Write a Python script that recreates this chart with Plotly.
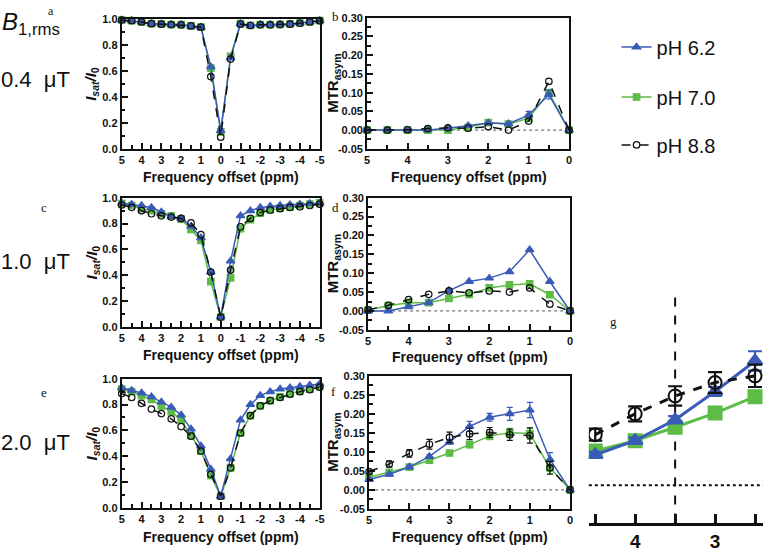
import plotly.graph_objects as go

# ---------------- data ----------------
x_z = [5, 4.5, 4, 3.5, 3, 2.5, 2, 1.5, 1, 0.5, 0, -0.5, -1, -1.5, -2, -2.5, -3, -3.5, -4, -4.5, -5]
x_m = [5, 4.5, 4, 3.5, 3, 2.5, 2, 1.5, 1, 0.5, 0]

series_names = ["pH 6.2", "pH 7.0", "pH 8.8"]

# 0.4 uT Z-spectra
z04_62 = [0.99, 0.985, 0.975, 0.962, 0.96, 0.955, 0.955, 0.942, 0.935, 0.63, 0.14, 0.70, 0.962, 0.948, 0.955, 0.955, 0.957, 0.96, 0.967, 0.975, 0.985]
z04_70 = [0.99, 0.985, 0.975, 0.962, 0.96, 0.955, 0.955, 0.945, 0.935, 0.62, 0.13, 0.71, 0.962, 0.948, 0.955, 0.955, 0.957, 0.96, 0.967, 0.975, 0.985]
z04_88 = [0.99, 0.985, 0.975, 0.962, 0.958, 0.955, 0.952, 0.945, 0.935, 0.555, 0.09, 0.69, 0.958, 0.948, 0.953, 0.953, 0.955, 0.958, 0.965, 0.975, 0.985]
# 0.4 uT MTRasym
m04_62 = [0.0, 0.0, 0.0, 0.0, 0.005, 0.012, 0.019, 0.017, 0.040, 0.095, 0.0]
m04_70 = [0.0, 0.0, 0.0, 0.0, 0.0, 0.007, 0.020, 0.016, 0.032, 0.100, 0.0]
m04_88 = [0.0, 0.0, 0.001, 0.004, 0.006, 0.005, 0.009, 0.0, 0.024, 0.130, 0.0]
e04_62 = [0, 0, 0, 0, 0, 0, 0, 0, 0.01, 0.012, 0]

# 1.0 uT Z-spectra
z10_62 = [0.96, 0.95, 0.94, 0.925, 0.89, 0.855, 0.84, 0.78, 0.69, 0.425, 0.076, 0.51, 0.86, 0.90, 0.925, 0.935, 0.94, 0.945, 0.95, 0.955, 0.96]
z10_70 = [0.955, 0.94, 0.915, 0.90, 0.875, 0.86, 0.835, 0.755, 0.67, 0.35, 0.076, 0.38, 0.76, 0.83, 0.88, 0.905, 0.92, 0.93, 0.94, 0.95, 0.96]
z10_88 = [0.944, 0.926, 0.90, 0.876, 0.86, 0.85, 0.84, 0.805, 0.715, 0.425, 0.076, 0.44, 0.775, 0.84, 0.885, 0.905, 0.915, 0.925, 0.93, 0.94, 0.95]
# 1.0 uT MTRasym
m10_62 = [0.0, 0.0, 0.011, 0.022, 0.054, 0.078, 0.087, 0.104, 0.162, 0.078, 0.0]
m10_70 = [0.003, 0.014, 0.022, 0.022, 0.033, 0.044, 0.061, 0.069, 0.072, 0.043, 0.0]
m10_88 = [0.003, 0.015, 0.030, 0.044, 0.053, 0.048, 0.053, 0.050, 0.061, 0.018, 0.0]

# 2.0 uT Z-spectra
z20_62 = [0.93, 0.91, 0.89, 0.86, 0.82, 0.78, 0.72, 0.61, 0.48, 0.30, 0.09, 0.38, 0.68, 0.80, 0.87, 0.90, 0.92, 0.93, 0.94, 0.95, 0.96]
z20_70 = [0.92, 0.90, 0.87, 0.84, 0.79, 0.745, 0.68, 0.56, 0.44, 0.25, 0.09, 0.31, 0.58, 0.715, 0.79, 0.83, 0.86, 0.885, 0.905, 0.92, 0.94]
z20_88 = [0.885, 0.855, 0.81, 0.765, 0.73, 0.69, 0.63, 0.555, 0.44, 0.26, 0.09, 0.31, 0.58, 0.715, 0.79, 0.83, 0.855, 0.88, 0.90, 0.915, 0.935]
# 2.0 uT MTRasym with error bars
m20_62 = [0.027, 0.041, 0.060, 0.088, 0.126, 0.167, 0.191, 0.200, 0.210, 0.080, 0.0]
m20_70 = [0.033, 0.046, 0.060, 0.078, 0.097, 0.119, 0.142, 0.150, 0.148, 0.058, 0.0]
m20_88 = [0.048, 0.068, 0.096, 0.120, 0.138, 0.147, 0.151, 0.145, 0.143, 0.058, 0.0]
e20_62 = [0.004, 0.004, 0.004, 0.005, 0.006, 0.013, 0.010, 0.017, 0.020, 0.018, 0.0]
e20_70 = [0.004, 0.005, 0.004, 0.005, 0.005, 0.008, 0.010, 0.012, 0.015, 0.015, 0.0]
e20_88 = [0.004, 0.008, 0.010, 0.013, 0.014, 0.015, 0.013, 0.015, 0.020, 0.017, 0.0]

z_tickvals = [5, 4, 3, 2, 1, 0, -1, -2, -3, -4, -5]
z_ticktext = ["5", "4", "3", "2", "1", "0", "-1", "-2", "-3", "-4", "-5"]
zy_tickvals = [0, 0.2, 0.4, 0.6, 0.8, 1.0]
zy_ticktext = ["0.0", "0.2", "0.4", "0.6", "0.8", "1.0"]
m_tickvals = [5, 4, 3, 2, 1, 0]
m_ticktext = ["5", "4", "3", "2", "1", "0"]
my_tickvals = [-0.05, 0, 0.05, 0.10, 0.15, 0.20, 0.25, 0.30]
my_ticktext = ["-0.05", "0.00", "0.05", "0.10", "0.15", "0.20", "0.25", "0.30"]
g_tickvals = [4.5, 4, 3.5, 3, 2.5]
g_ticktext = [" ", "4", " ", "3", " "]
field_labels = ["0.4  \u03bcT", "1.0  \u03bcT", "2.0  \u03bcT"]

# ---------------- styling ----------------
W, H = 768, 554
BLUE = "#3a5bb8"
GREEN = "#5cbc45"
BLACK = "#111111"
SANS = "Liberation Sans, Arial, sans-serif"
SERIF = "Liberation Serif, Times New Roman, serif"

def fx(p0, p1):
    return [p0 / W, p1 / W]

def fy(p0, p1):
    return [1 - p1 / H, 1 - p0 / H]

fig = go.Figure()

styles = [
    dict(color=BLUE, symbol="triangle-up", dash="solid"),
    dict(color=GREEN, symbol="square", dash="solid"),
    dict(color=BLACK, symbol="circle-open", dash="dash"),
]
draw_order = [1, 0, 2]  # green beneath blue, open circles on top

def add_panel(idx, xs, ys_list, errs_list=None, legend=False, big=False):
    xa = "x" if idx == 1 else f"x{idx}"
    ya = "y" if idx == 1 else f"y{idx}"
    for k in draw_order:
        ys, st = ys_list[k], styles[k]
        err = None
        if errs_list is not None and errs_list[k] is not None:
            err = dict(type="data", array=errs_list[k], color=st["color"],
                       thickness=2.2 if big else 1.2, width=7 if big else 3)
        msize = 13 if big else 6.5
        if k == 0 and not big:
            msize = 7.5
        fig.add_trace(go.Scatter(
            x=xs, y=ys, mode="lines+markers", xaxis=xa, yaxis=ya,
            name=series_names[k],
            line=dict(color=st["color"], width=3 if big else 1.5, dash=st["dash"]),
            marker=dict(symbol=st["symbol"], size=msize, color=st["color"],
                        line=dict(width=2 if big else 1.2, color=st["color"])),
            error_y=err,
            showlegend=legend,
            legend=["legend", "legend2", "legend3"][k],
            cliponaxis=big,
        ))

add_panel(1, x_z, [z04_62, z04_70, z04_88], legend=True)
add_panel(2, x_m, [m04_62, m04_70, m04_88], [e04_62, None, None])
add_panel(3, x_z, [z10_62, z10_70, z10_88])
add_panel(4, x_m, [m10_62, m10_70, m10_88])
add_panel(5, x_z, [z20_62, z20_70, z20_88])
add_panel(6, x_m, [m20_62, m20_70, m20_88], [e20_62, e20_70, e20_88])
sl = slice(1, 6)
add_panel(7, x_m[sl], [m20_62[sl], m20_70[sl], m20_88[sl]],
          [e20_62[sl], e20_70[sl], e20_88[sl]], big=True)

tickfont = dict(family=SANS, size=11, color=BLACK, weight="bold")
common = dict(showline=True, mirror=True, linecolor=BLACK, linewidth=2,
              ticks="inside", ticklen=6, tickwidth=1.5, tickcolor=BLACK,
              showgrid=False, zeroline=False, tickfont=tickfont, ticklabelstandoff=0)

panels = {
    1: ((120, 320), (13, 146), "z"),
    2: ((368, 572), (12, 146), "m"),
    3: ((120, 320), (196, 328), "z"),
    4: ((369, 573), (196, 331), "m"),
    5: ((120, 320), (381, 513), "z"),
    6: ((370, 573), (378, 514), "m"),
}

layout = {}
for i, (pxr, pyr, kind) in panels.items():
    xn = "xaxis" if i == 1 else f"xaxis{i}"
    yn = "yaxis" if i == 1 else f"yaxis{i}"
    an_x = "y" if i == 1 else f"y{i}"
    an_y = "x" if i == 1 else f"x{i}"
    if kind == "z":
        layout[xn] = dict(common, domain=fx(*pxr), range=[5, -5], anchor=an_x,
                          tickmode="array", tickvals=z_tickvals, ticktext=z_ticktext,
                          minor=dict(dtick=0.5, tick0=0, ticklen=3.5, tickwidth=1.5,
                                     ticks="inside", tickcolor=BLACK))
        layout[yn] = dict(common, domain=fy(*pyr), range=[0, 1.0], anchor=an_y,
                          tickmode="array", tickvals=zy_tickvals, ticktext=zy_ticktext,
                          minor=dict(dtick=0.1, tick0=0, ticklen=3.5, tickwidth=1.5,
                                     ticks="inside", tickcolor=BLACK))
    else:
        layout[xn] = dict(common, domain=fx(*pxr), range=[5, 0], anchor=an_x,
                          tickmode="array", tickvals=m_tickvals, ticktext=m_ticktext,
                          minor=dict(dtick=0.5, tick0=0, ticklen=3.5, tickwidth=1.5,
                                     ticks="inside", tickcolor=BLACK))
        layout[yn] = dict(common, domain=fy(*pyr), range=[-0.05, 0.30], anchor=an_y,
                          tickmode="array", tickvals=my_tickvals, ticktext=my_ticktext,
                          minor=dict(dtick=0.025, tick0=0, ticklen=3.5, tickwidth=1.5,
                                     ticks="inside", tickcolor=BLACK))

# inset g
layout["xaxis7"] = dict(domain=fx(592, 768), range=[4.58, 2.40], anchor="y7",
                        showline=True, mirror=False, linecolor=BLACK, linewidth=2.5,
                        ticks="inside", ticklen=9, tickwidth=2.5, tickcolor=BLACK,
                        tickmode="array", tickvals=g_tickvals, ticktext=g_ticktext,
                        showgrid=False, zeroline=False, ticklabelstandoff=0,
                        tickfont=dict(family=SANS, size=19, color=BLACK, weight="bold"))
layout["yaxis7"] = dict(domain=fy(292, 528), range=[-0.05, 0.26], anchor="x7",
                        visible=False, showgrid=False, zeroline=False)

shapes = []
for i in (2, 4, 6):
    shapes.append(dict(type="line", xref=f"x{i}", yref=f"y{i}", x0=5, x1=0, y0=0, y1=0,
                       line=dict(color="#777777", width=1.2, dash="dot"), layer="below"))
shapes.append(dict(type="line", xref="x7 domain", yref="y7", x0=0, x1=1, y0=0, y1=0,
                   line=dict(color=BLACK, width=2, dash="dot"), layer="below"))
shapes.append(dict(type="line", xref="x7", yref="y7", x0=3.5, x1=3.5, y0=-0.05, y1=0.26,
                   line=dict(color=BLACK, width=2, dash="dash"), layer="below"))

ann = []
def A(x, y, text, size, family=SANS, xanchor="center", yanchor="middle", angle=0, **kw):
    ann.append(dict(x=x / W, y=1 - y / H, xref="paper", yref="paper", text=text,
                    showarrow=False, xanchor=xanchor, yanchor=yanchor, textangle=angle,
                    font=dict(family=family, size=size, color=BLACK, **kw)))

A(-3, 0, "<i>B</i><sub>1,rms</sub>", 24, xanchor="left", yanchor="top")
for lbl, yy in zip(field_labels, [75, 261, 446]):
    A(-4, yy, lbl, 22, xanchor="left")
for t, xx, yy in [("a", 48, 5), ("b", 336, 11), ("c", 41, 206), ("d", 336, 206),
                  ("e", 41, 395), ("f", 334, 394), ("g", 617, 322)]:
    A(xx, yy, t, 12 if t == "a" else 13, family=SERIF)
for yy in (175, 357, 543):
    A(220, yy, "Frequency offset (ppm)", 14, weight="bold")
for xx, yy in ((471, 175), (472, 359), (472, 543)):
    A(xx, yy, "Frequency offset (ppm)", 14, weight="bold")
for yy in ((13 + 146) / 2, (196 + 328) / 2, (381 + 513) / 2):
    A(90, yy, "<i>I</i><sub><i>sat</i></sub><i>/I</i><sub>0</sub>", 15, angle=-90, weight="bold")
for yy in ((12 + 146) / 2, (196 + 331) / 2, (378 + 514) / 2):
    A(334, yy, "MTR<sub>asym</sub>", 15, angle=-90, weight="bold")

legend_common = dict(font=dict(family=SANS, size=20, color=BLACK), bgcolor="rgba(0,0,0,0)",
                     xanchor="left", yanchor="middle", itemwidth=30, borderwidth=0)

fig.update_layout(
    width=W, height=H, margin=dict(l=0, r=0, t=0, b=0),
    paper_bgcolor="white", plot_bgcolor="white",
    shapes=shapes, annotations=ann,
    legend=dict(legend_common, x=620 / W, y=1 - 42 / H),
    legend2=dict(legend_common, x=620 / W, y=1 - 93 / H),
    legend3=dict(legend_common, x=620 / W, y=1 - 142 / H),
    **layout,
)

fig.write_html("out.html", config={"displayModeBar": False},
               post_script="document.body.style.margin='0';document.body.style.padding='0';")
